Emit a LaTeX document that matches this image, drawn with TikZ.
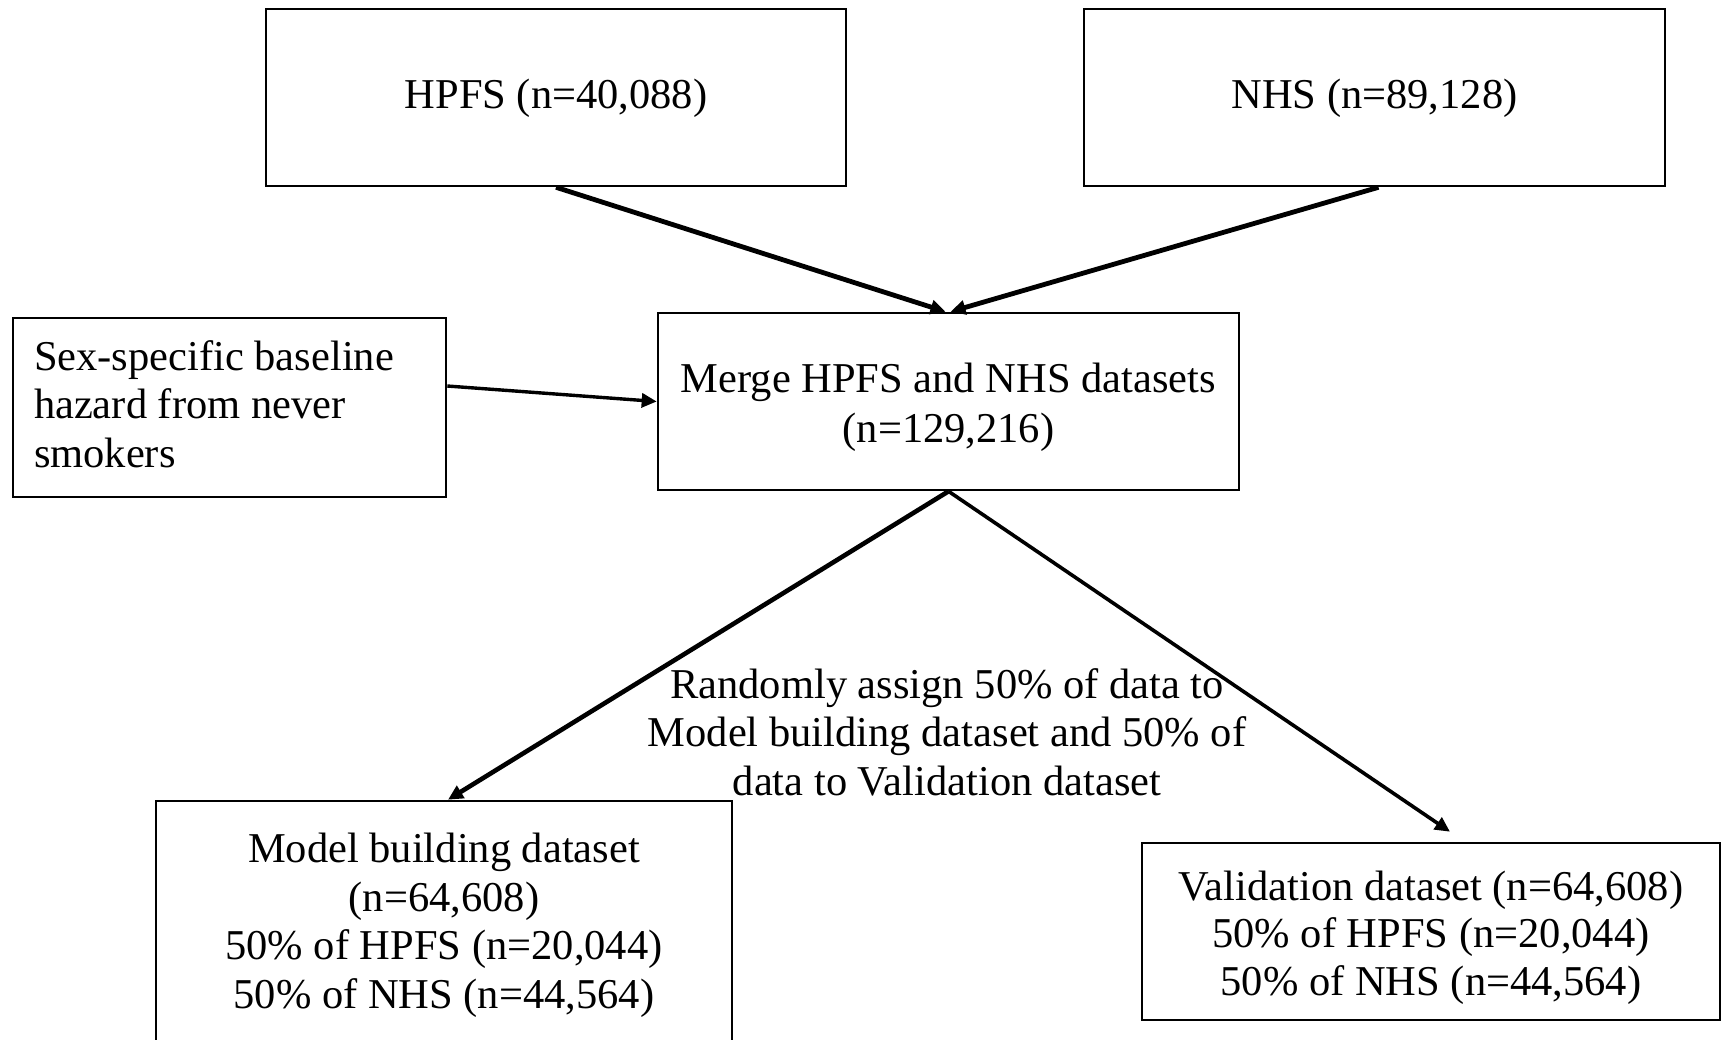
\documentclass[tikz,border=0pt]{standalone}
\usepackage{fontspec}
\setmainfont{Liberation Serif}
\usetikzlibrary{arrows.meta}
\newcommand\tlines[2]{\begin{tabular}[b]{@{}#1@{}}#2\end{tabular}}
\begin{document}
\begin{tikzpicture}[x=0.5pt,y=-0.5pt,
  txt/.style={font=\fontsize{21.25}{24.25}\selectfont},
  box/.style={draw, line width=1.3pt, inner sep=0pt, txt, text depth=0pt},
  arr/.style={-{Triangle[length=7.5pt,width=7pt]}, line width=2.4pt}]
\useasboundingbox (0,0) rectangle (1722,1039);
\clip (0,0) rectangle (1722,1039);

\node[box, minimum width=290pt, minimum height=88.5pt, text height=11pt] (hpfs) at (556,97.5) {HPFS (n=40,088)};
\node[box, minimum width=290.5pt, minimum height=88.5pt, text height=11pt] (nhs) at (1374.5,97.5) {NHS (n=89,128)};
\node[box, minimum width=290.5pt, minimum height=88.5pt, text height=41pt, font=\fontsize{21.25}{25}\selectfont] (merge) at (948.5,401.5) {\tlines{c}{Merge HPFS and NHS datasets\\(n=129,216)}};
\node[box, inner xsep=10.5pt, minimum height=89.5pt, text height=59.5pt] (sex) at (229.5,407.5) {\makebox[195.5pt][l]{\tlines{l}{Sex-specific baseline\\hazard from never\\smokers}}};
\node[box, minimum width=288pt, minimum height=124pt, text height=83pt] (model) at (444,925) {\tlines{c}{Model building dataset\\(n=64,608)\\50\% of HPFS (n=20,044)\\50\% of NHS (n=44,564)}};
\node[box, minimum width=289pt, minimum height=88.5pt, text height=63.5pt, font=\fontsize{21.25}{23.75}\selectfont] (val) at (1431,931.5) {\tlines{c}{Validation dataset (n=64,608)\\50\% of HPFS (n=20,044)\\50\% of NHS (n=44,564)}};
\node[txt, inner sep=0pt, anchor=base] (lbl) at (947,795) {\tlines{c}{Randomly assign 50\% of data to\\Model building dataset and 50\% of\\data to Validation dataset}};

\draw[arr] (hpfs.south) -- ([xshift=-1.5pt]merge.north);
\draw[arr] ([xshift=2pt]nhs.south) -- ([xshift=1pt]merge.north);
\draw[arr, line width=1.7pt] ([yshift=10.75pt]sex.east) -- (merge.west);
\draw[arr, line width=2.3pt] (merge.south) -- ([xshift=2pt]model.north);
\draw[arr, line width=1.8pt] (merge.south) -- ([xshift=9.5pt,yshift=5pt]val.north);
\end{tikzpicture}
\end{document}
